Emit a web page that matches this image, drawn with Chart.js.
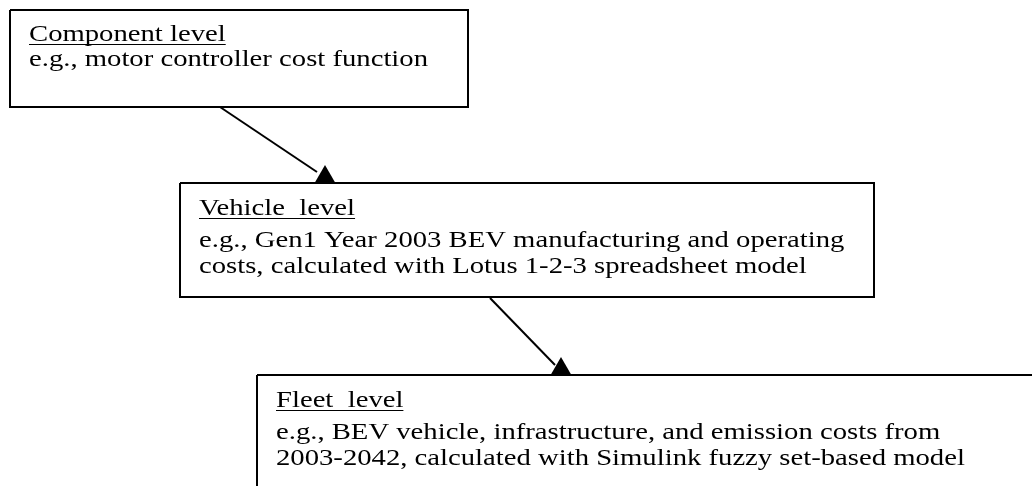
<!DOCTYPE html>
<html>
<head>
<meta charset="utf-8">
<script src="https://cdn.jsdelivr.net/npm/chart.js@4"></script>
<style>
  html, body { margin: 0; padding: 0; background: #ffffff; }
  #wrap { width: 1032px; height: 486px; position: relative; }
</style>
</head>
<body>
<div id="wrap"><canvas id="c" width="1032" height="486"></canvas></div>
<script>
// ---- Data (diagram units = pixels of the 1032x486 plane) ----
const boxNames = ['Component level', 'Vehicle  level', 'Fleet  level'];
const boxLeft   = [10, 180, 257];
const boxTop    = [10, 183, 375];
const boxRight  = [468, 874, 1045];
const boxBottom = [107, 297, 500];

const boxLines = [
  ['e.g., motor controller cost function'],
  ['e.g., Gen1 Year 2003 BEV manufacturing and operating',
   'costs, calculated with Lotus 1-2-3 spreadsheet model'],
  ['e.g., BEV vehicle, infrastructure, and emission costs from',
   '2003-2042, calculated with Simulink fuzzy set-based model']
];
const headingBaseline = [41, 215, 407];
const bodyBaseline    = [66, 247, 439];

// arrows: start point on source box, end of shaft, arrowhead tip
const arrowStartX = [220, 490];
const arrowStartY = [107, 298];
const arrowEndX   = [317, 555];
const arrowEndY   = [172, 365];
const arrowTipX   = [325, 561];
const arrowTipY   = [165, 357];

// ---- Build datasets ----
const datasets = [];
for (let i = 0; i < boxNames.length; i++) {
  datasets.push({
    type: 'line',
    label: boxNames[i],
    data: [
      {x: boxLeft[i], y: boxTop[i]},
      {x: boxRight[i], y: boxTop[i]},
      {x: boxRight[i], y: boxBottom[i]},
      {x: boxLeft[i], y: boxBottom[i]},
      {x: boxLeft[i], y: boxTop[i]}
    ],
    borderColor: '#000000',
    borderWidth: 2,
    pointRadius: 0,
    fill: false,
    tension: 0,
    borderJoinStyle: 'miter',
    clip: false,
    order: 2
  });
}
const headR = 11.5;
for (let i = 0; i < arrowStartX.length; i++) {
  datasets.push({
    type: 'line',
    label: 'arrow' + i,
    data: [
      {x: arrowStartX[i], y: arrowStartY[i]},
      {x: arrowEndX[i], y: arrowEndY[i]}
    ],
    borderColor: '#000000',
    borderWidth: 2,
    pointRadius: 0,
    fill: false,
    order: 1
  });
  datasets.push({
    type: 'scatter',
    label: 'head' + i,
    data: [{x: arrowTipX[i], y: arrowTipY[i] + headR}],
    pointStyle: 'triangle',
    pointRadius: headR,
    backgroundColor: '#000000',
    borderColor: '#000000',
    borderWidth: 0,
    order: 0
  });
}

const FONT_SIZE = 23;
const FONT = FONT_SIZE + 'px "Liberation Serif", "Times New Roman", serif';
const TARGET_W = 399; // width of "e.g., motor controller cost function" in reference

const textPlugin = {
  id: 'boxText',
  afterDatasetsDraw(chart) {
    const ctx = chart.ctx;
    const xs = chart.scales.x, ys = chart.scales.y;
    ctx.save();
    ctx.font = FONT;
    const sx = TARGET_W / ctx.measureText(boxLines[0][0]).width;
    ctx.fillStyle = '#000000';
    ctx.textBaseline = 'alphabetic';
    ctx.textAlign = 'left';
    const draw = (txt, x, y, underline) => {
      const px = xs.getPixelForValue(x), py = ys.getPixelForValue(y);
      ctx.save();
      ctx.translate(px, py);
      ctx.scale(sx, 1);
      ctx.fillText(txt, 0, 0);
      const w = ctx.measureText(txt).width;
      ctx.restore();
      if (underline) {
        ctx.save();
        ctx.strokeStyle = '#000000';
        ctx.lineWidth = 1;
        ctx.beginPath();
        ctx.moveTo(px, Math.round(py) + 3.5);
        ctx.lineTo(px + w * sx, Math.round(py) + 3.5);
        ctx.stroke();
        ctx.restore();
      }
    };
    for (let i = 0; i < boxNames.length; i++) {
      const tx = boxLeft[i] + 19;
      draw(boxNames[i], tx, headingBaseline[i], true);
      boxLines[i].forEach((ln, j) => draw(ln, tx, bodyBaseline[i] + j * 26, false));
    }
    ctx.restore();
  }
};

new Chart(document.getElementById('c'), {
  data: { datasets },
  options: {
    responsive: false,
    animation: false,
    layout: { padding: 0, autoPadding: false },
    plugins: { legend: { display: false }, tooltip: { enabled: false } },
    scales: {
      x: { type: 'linear', min: 0, max: 1032, display: false },
      y: { type: 'linear', min: 0, max: 486, reverse: true, display: false }
    }
  },
  plugins: [textPlugin]
});
</script>
</body>
</html>
